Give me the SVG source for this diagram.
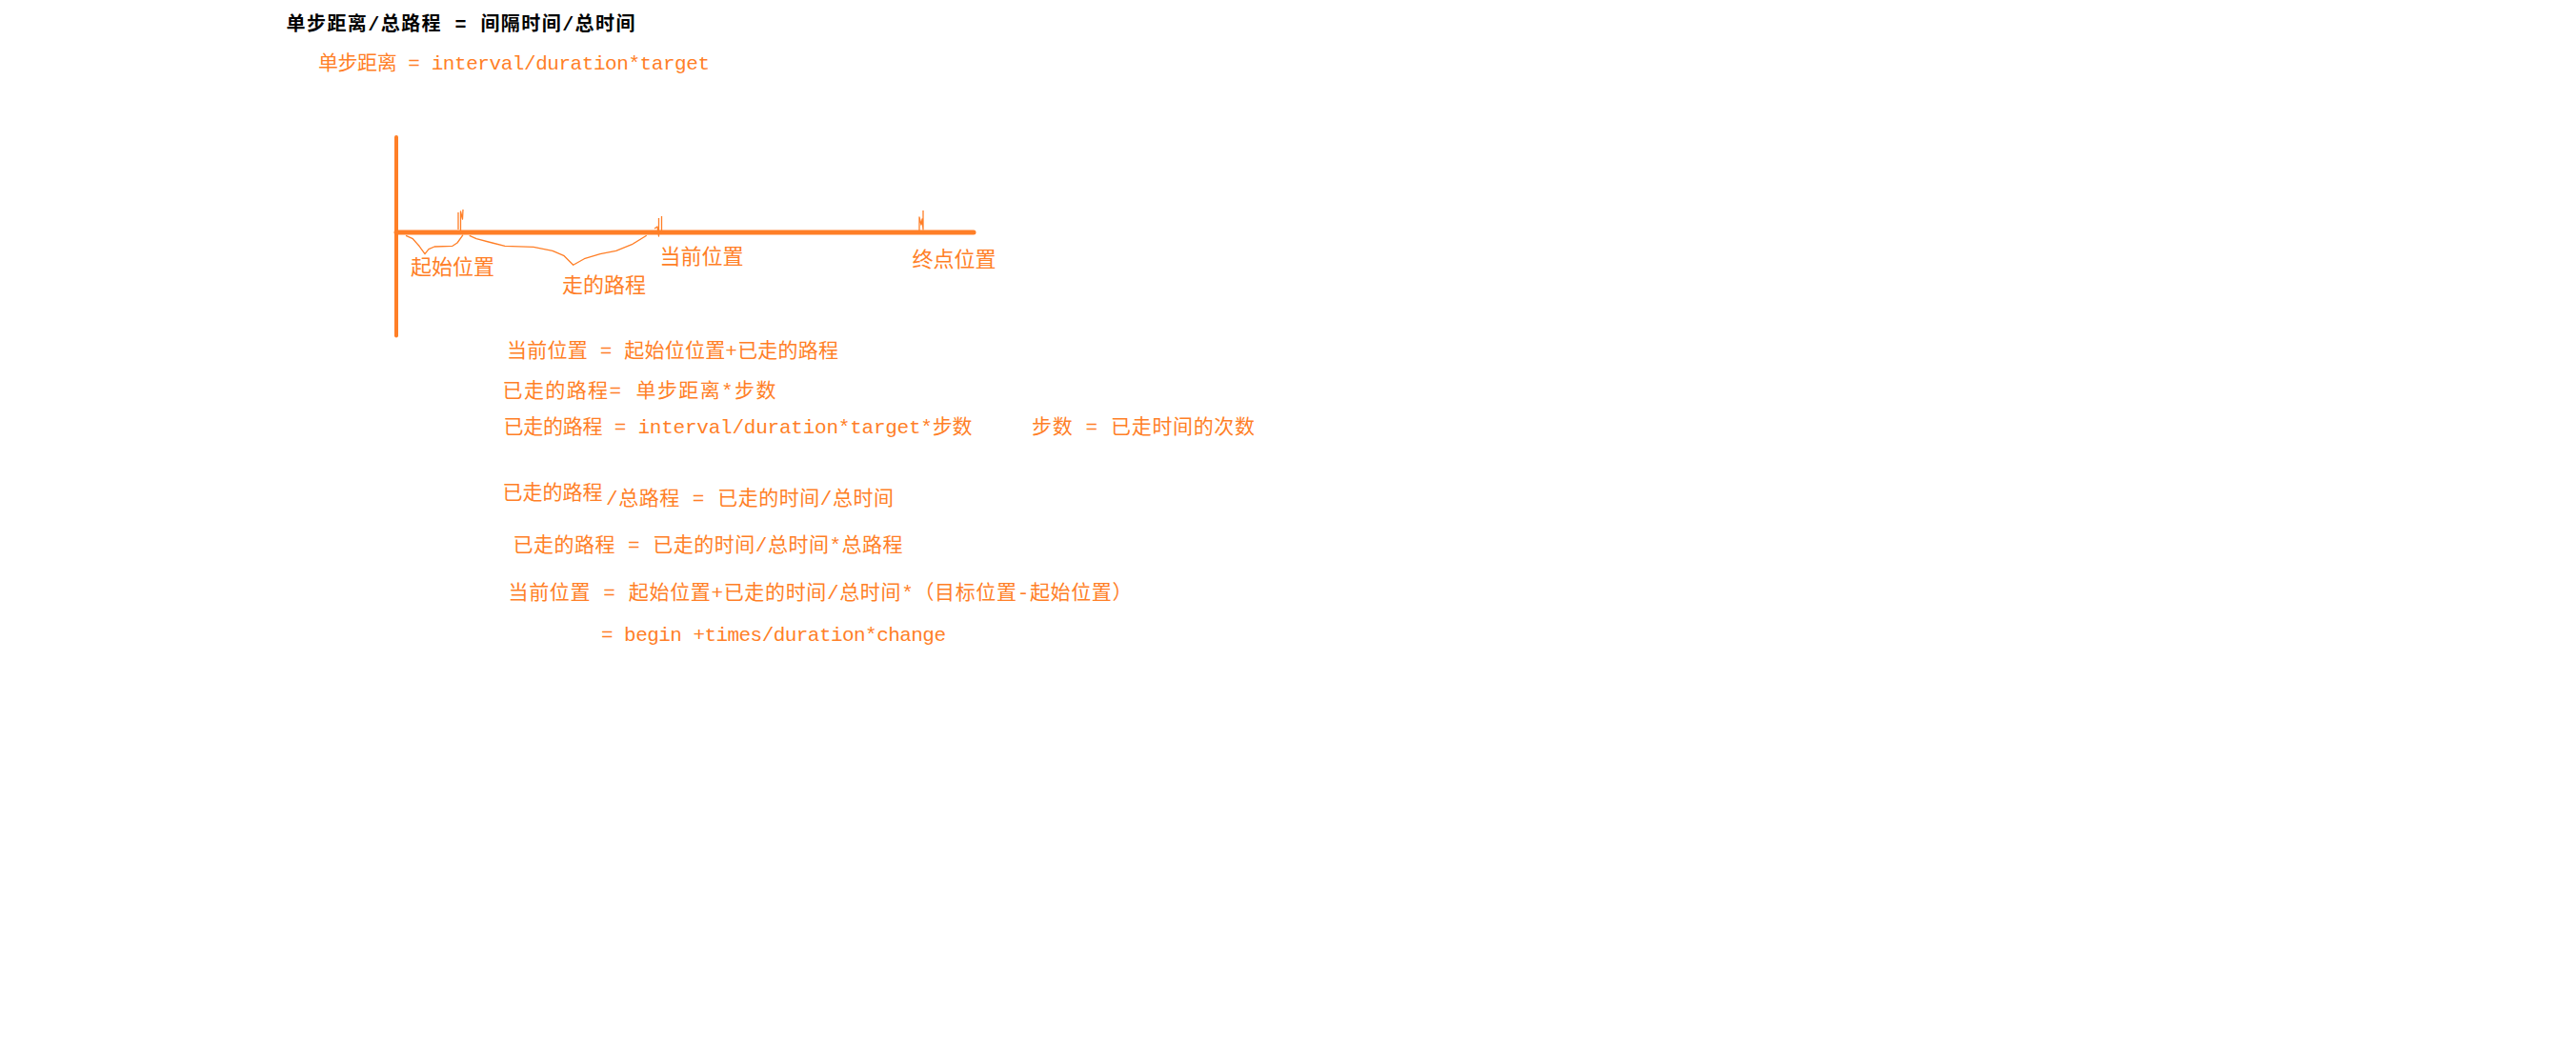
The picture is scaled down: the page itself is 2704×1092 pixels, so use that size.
<svg xmlns="http://www.w3.org/2000/svg" width="2704" height="1092" viewBox="0 0 2704 1092">
  <style>
    .t { font-family: "Liberation Mono", "Noto Sans CJK SC", monospace; fill: #ff7f27; font-size: 21px; }
    .lbl { font-family: "Liberation Mono", "Noto Sans CJK SC", monospace; fill: #ff7f27; font-size: 22px; }
    .title { font-family: "Liberation Mono", "Noto Sans CJK SC", monospace; fill: #000000; font-size: 20px; font-weight: bold; }
    .axis { stroke: #ff7f27; fill: none; stroke-linecap: round; }
    .thin { stroke: #ff7f27; fill: none; stroke-width: 1.3; stroke-linejoin: round; }
  </style>
  <rect x="0" y="0" width="2704" height="1092" fill="#ffffff"/>

  <g id="heading">
    <text class="title" x="300.5" y="32" textLength="366" lengthAdjust="spacing">单步距离/总路程 = 间隔时间/总时间</text>
    <text class="t" x="334" y="72.5" font-size="20" textLength="411" lengthAdjust="spacing">单步距离 = interval/duration*target</text>
  </g>

  <g id="number-line">
    <line class="axis" x1="416" y1="144" x2="416" y2="352.5" stroke-width="4"/>
    <line class="axis" x1="416" y1="244" x2="1022" y2="244" stroke-width="5"/>
    <path class="thin" d="M481,241 L481,223 M483.5,242 L483.5,222 L485.5,230 L486,220"/>
    <path class="thin" d="M687,240 L690,238 L691.5,248 L691.5,229 M694.5,243 L694.5,227"/>
    <path class="thin" d="M965,242 L965,228 L967,236 L968,230 L969,241 L969,221"/>
  </g>

  <g id="braces">
    <polyline class="thin" points="426,247.3 433.3,250.7 440,258.3 446,266.7 450,261.7 456,259 475,258.3 480,255 486,246.7"/>
    <polyline class="thin" points="492.7,247.3 500,250.7 516.7,255 530,258.3 560,259.3 580,263.3 591.7,268.3 601.7,278.3 613.3,271.7 630,266.7 646.7,263.3 663.3,256.7 678.7,247.3"/>
  </g>

  <g id="labels">
    <text class="lbl" x="431" y="288">起始位置</text>
    <text class="lbl" x="590" y="306.5">走的路程</text>
    <text class="lbl" x="692.5" y="277">当前位置</text>
    <text class="lbl" x="957.5" y="280">终点位置</text>
  </g>

  <g id="formulas">
    <text class="t" x="532" y="375" textLength="348" lengthAdjust="spacing">当前位置 = 起始位位置+已走的路程</text>
    <text class="t" x="527.5" y="416.5" textLength="287" lengthAdjust="spacing">已走的路程= 单步距离*步数</text>
    <text class="t" x="528.5" y="455" textLength="492" lengthAdjust="spacing">已走的路程 = interval/duration*target*步数</text>
    <text class="t" x="1083" y="455" textLength="234" lengthAdjust="spacing">步数 = 已走时间的次数</text>
    <text class="t" x="527.5" y="523.5">已走的路程</text>
    <text class="t" x="636" y="530" textLength="302" lengthAdjust="spacing">/总路程 = 已走的时间/总时间</text>
    <text class="t" x="538.5" y="578.5" textLength="409" lengthAdjust="spacing">已走的路程 = 已走的时间/总时间*总路程</text>
    <text class="t" x="533.5" y="629" textLength="655" lengthAdjust="spacing">当前位置 = 起始位置+已走的时间/总时间*（目标位置-起始位置）</text>
    <text class="t" x="631" y="673" font-size="20" textLength="362" lengthAdjust="spacing">= begin +times/duration*change</text>
  </g>
</svg>
